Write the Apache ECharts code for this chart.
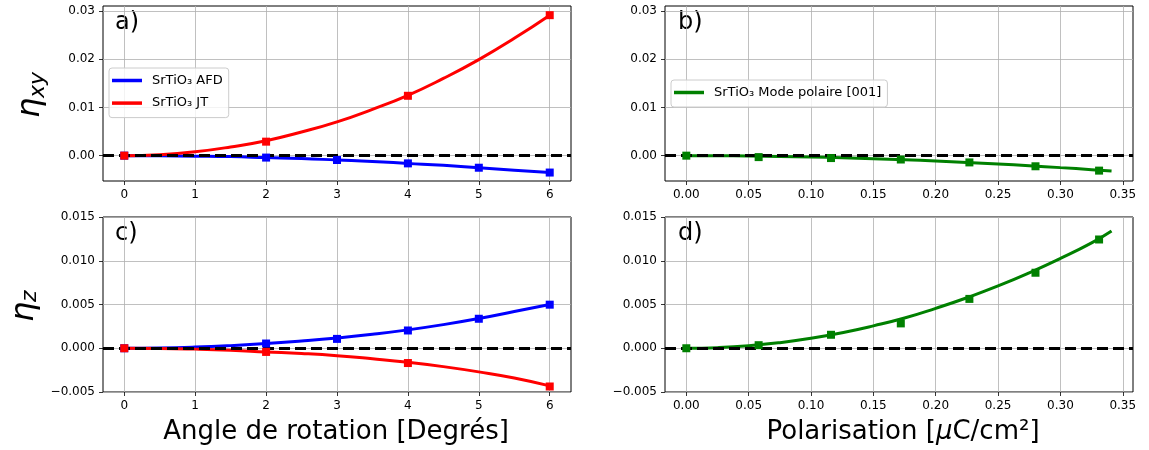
<!DOCTYPE html>
<html><head><meta charset="utf-8">
<script src="https://cdn.jsdelivr.net/npm/echarts@6/dist/echarts.min.js"></script>
<style>html,body{margin:0;padding:0;background:#fff}#c{width:1149px;height:450px}</style>
</head><body><div id="c"></div>
<script>
// ---- data ----
const angleTicks = [0, 1, 2, 3, 4, 5, 6];
const polTicks = [0, 0.05, 0.10, 0.15, 0.20, 0.25, 0.30, 0.35];
const xyTicks = [0, 0.01, 0.02, 0.03];
const zTicks = [-0.005, 0, 0.005, 0.010, 0.015];

const angleCurveX = [0, 0.5, 1, 1.5, 2, 2.5, 3, 3.5, 4, 4.5, 5, 5.5, 6];
const afdXyCurve = [0, -0.00003, -0.0001, -0.0002, -0.0004, -0.0006, -0.0009, -0.0012, -0.0016, -0.0020, -0.0025, -0.0030, -0.0035];
const jtXyCurve = [0, 0.0002, 0.0008, 0.0018, 0.0031, 0.0049, 0.0070, 0.0096, 0.0125, 0.0160, 0.0199, 0.0243, 0.0291];
const afdZCurve = [0, 0.00003, 0.00013, 0.0003, 0.00053, 0.00083, 0.00118, 0.0016, 0.0021, 0.0027, 0.0034, 0.0042, 0.0050];
const jtZCurve = [0, -0.00002, -0.0001, -0.00023, -0.00042, -0.0006, -0.00085, -0.0012, -0.0016, -0.0021, -0.0027, -0.0034, -0.0043];

const afdMarkX = [0, 2, 3, 4, 5, 6];
const afdXyMark = [0, -0.0004, -0.0009, -0.0016, -0.0025, -0.0035];
const afdZMark = [0, 0.00054, 0.00107, 0.00203, 0.00337, 0.00498];
const jtMarkX = [0, 2, 4, 6];
const jtXyMark = [0, 0.0029, 0.0124, 0.0291];
const jtZMark = [0, -0.00042, -0.00169, -0.00437];

const polCurveX = [0, 0.025, 0.05, 0.075, 0.1, 0.125, 0.15, 0.175, 0.2, 0.225, 0.25, 0.275, 0.3, 0.325, 0.341];
const polXyCurve = [0, -0.00002, -0.00007, -0.00015, -0.00028, -0.00043, -0.00062, -0.00084, -0.0011, -0.0014, -0.00172, -0.00208, -0.00248, -0.0029, -0.0032];
const polZCurve = [0, 0.00007, 0.00028, 0.00064, 0.00114, 0.00178, 0.00256, 0.00345, 0.00456, 0.00577, 0.00712, 0.00862, 0.01026, 0.01204, 0.0134];
const polMarkX = [0, 0.058, 0.116, 0.172, 0.227, 0.280, 0.331];
const polXyMark = [0, -0.0003, -0.0005, -0.0008, -0.0014, -0.0022, -0.0031];
const polZMark = [0, 0.00035, 0.00154, 0.00284, 0.00564, 0.00863, 0.01243];

const nameAFD = 'SrTiO\u2083 AFD';
const nameJT = 'SrTiO\u2083 JT';
const namePol = 'SrTiO\u2083 Mode polaire [001]';

// ---- helpers ----
const FONT = 'DejaVu Sans';
const zip = (xs, ys) => xs.map((x, i) => [x, ys[i]]);
const minus = s => s.replace('-', '\u2212');

function axisCfg(type, gridIndex, min, max, ticks, fmt, extra) {
  return Object.assign({
    type: 'value', gridIndex, min, max,
    axisLine: { show: false, onZero: false },
    axisTick: { show: true, length: 4, inside: false, customValues: ticks, lineStyle: { color: '#000', width: 0.8 } },
    axisLabel: { customValues: ticks, formatter: v => minus(fmt(v)), fontSize: 12, color: '#000', fontFamily: FONT, margin: 8 },
    splitLine: { show: true, lineStyle: { color: '#b0b0b0', width: 0.8 } }
  }, extra || {});
}

function curve(name, xi, yi, xs, ys, color) {
  return { type: 'line', name, xAxisIndex: xi, yAxisIndex: yi, data: zip(xs, ys), smooth: true,
    showSymbol: false, symbol: 'none', lineStyle: { color, width: 3 }, itemStyle: { color }, z: 2, silent: true };
}
function marks(name, xi, yi, xs, ys, color) {
  return { type: 'scatter', name, xAxisIndex: xi, yAxisIndex: yi, data: zip(xs, ys), symbol: 'rect', symbolSize: 8,
    itemStyle: { color, opacity: 1 }, z: 4, silent: true };
}
function zeroLine(xi, yi) {
  return { type: 'line', name: 'zero' + xi, xAxisIndex: xi, yAxisIndex: yi, data: [], symbol: 'none', z: 3, silent: true,
    markLine: { silent: true, symbol: ['none', 'none'], label: { show: false }, z: 3,
      lineStyle: { color: '#000', width: 3, type: [11, 5] }, data: [{ yAxis: 0 }], animation: false } };
}

const grids = [
  { left: 103, top: 6, width: 468, height: 175 },
  { left: 665, top: 6, width: 468, height: 175 },
  { left: 103, top: 217, width: 468, height: 175 },
  { left: 665, top: 217, width: 468, height: 175 }
].map(g => Object.assign(g, { show: true, borderColor: '#000', borderWidth: 1, backgroundColor: 'transparent', containLabel: false, outerBoundsMode: 'none' }));

const fAngle = v => String(Math.round(v));
const fPol = v => v.toFixed(2);
const fXy = v => v.toFixed(2);
const fZ = v => v.toFixed(3);

const legendBase = {
  orient: 'vertical', icon: 'rect', itemWidth: 30, itemHeight: 3.5, itemGap: 7.6, selectedMode: false,
  padding: [5, 6, 7, 3], backgroundColor: 'rgba(255,255,255,0.8)', borderColor: '#cccccc', borderWidth: 1, borderRadius: 3,
  textStyle: { fontSize: 13, color: '#000', fontFamily: FONT, lineHeight: 15, padding: [0, 0, 0, 5] }
};

const option = {
  animation: false,
  backgroundColor: '#fff',
  textStyle: { fontFamily: FONT },
  grid: grids,
  xAxis: [
    axisCfg('x', 0, -0.3, 6.3, angleTicks, fAngle, { splitNumber: 6 }),
    axisCfg('x', 1, -0.0171, 0.3582, polTicks, fPol, { splitNumber: 7 }),
    axisCfg('x', 2, -0.3, 6.3, angleTicks, fAngle, { splitNumber: 6 }),
    axisCfg('x', 3, -0.0171, 0.3582, polTicks, fPol, { splitNumber: 7 })
  ],
  yAxis: [
    axisCfg('y', 0, -0.00525, 0.0310, xyTicks, fXy, { splitNumber: 4 }),
    axisCfg('y', 1, -0.00525, 0.0310, xyTicks, fXy, { splitNumber: 4 }),
    axisCfg('y', 2, -0.005, 0.015, zTicks, fZ, { interval: 0.005 }),
    axisCfg('y', 3, -0.005, 0.015, zTicks, fZ, { interval: 0.005 })
  ],
  legend: [
    Object.assign({}, legendBase, { data: [nameAFD, nameJT], left: 109, top: 68 }),
    Object.assign({}, legendBase, { data: [namePol], left: 671, top: 80 })
  ],
  series: [
    curve(nameAFD, 0, 0, angleCurveX, afdXyCurve, '#0000ff'),
    curve(nameJT, 0, 0, angleCurveX, jtXyCurve, '#ff0000'),
    zeroLine(0, 0),
    marks('afd_xy_pts', 0, 0, afdMarkX, afdXyMark, '#0000ff'),
    marks('jt_xy_pts', 0, 0, jtMarkX, jtXyMark, '#ff0000'),

    curve(namePol, 1, 1, polCurveX, polXyCurve, '#008000'),
    zeroLine(1, 1),
    marks('pol_xy_pts', 1, 1, polMarkX, polXyMark, '#008000'),

    curve(nameAFD, 2, 2, angleCurveX, afdZCurve, '#0000ff'),
    curve(nameJT, 2, 2, angleCurveX, jtZCurve, '#ff0000'),
    zeroLine(2, 2),
    marks('afd_z_pts', 2, 2, afdMarkX, afdZMark, '#0000ff'),
    marks('jt_z_pts', 2, 2, jtMarkX, jtZMark, '#ff0000'),

    curve(namePol, 3, 3, polCurveX, polZCurve, '#008000'),
    zeroLine(3, 3),
    marks('pol_z_pts', 3, 3, polMarkX, polZMark, '#008000')
  ],
  graphic: [
    { type: 'text', x: 115, y: 23, style: { text: 'a)', fontSize: 24, fontFamily: FONT, fill: '#000', textAlign: 'left', textVerticalAlign: 'middle' } },
    { type: 'text', x: 678, y: 23, style: { text: 'b)', fontSize: 24, fontFamily: FONT, fill: '#000', textAlign: 'left', textVerticalAlign: 'middle' } },
    { type: 'text', x: 115, y: 234, style: { text: 'c)', fontSize: 24, fontFamily: FONT, fill: '#000', textAlign: 'left', textVerticalAlign: 'middle' } },
    { type: 'text', x: 678, y: 234, style: { text: 'd)', fontSize: 24, fontFamily: FONT, fill: '#000', textAlign: 'left', textVerticalAlign: 'middle' } },
    { type: 'text', x: 336, y: 432, style: { text: 'Angle de rotation [Degrés]', fontSize: 26, fontFamily: FONT, fill: '#000', textAlign: 'center', textVerticalAlign: 'middle' } },
    { type: 'text', x: 903, y: 432, style: { text: '{n|Polarisation [}{i|μ}{n|C/cm²]}', fontSize: 26, fontFamily: FONT, fill: '#000', textAlign: 'center', textVerticalAlign: 'middle',
        rich: { n: { fontSize: 26, fontFamily: FONT, fill: '#000' }, i: { fontSize: 26, fontFamily: FONT, fontStyle: 'italic', fill: '#000' } } } },
    { type: 'group', rotation: Math.PI / 2, children: [
      { type: 'text', x: -118, y: 31, style: { text: 'η', fontSize: 32, fontStyle: 'italic', fontFamily: FONT, fill: '#000', textAlign: 'left', textVerticalAlign: 'middle' } },
      { type: 'text', x: -98, y: 38.5, style: { text: 'xy', fontSize: 22, fontStyle: 'italic', fontFamily: FONT, fill: '#000', textAlign: 'left', textVerticalAlign: 'middle' } }
    ] },
    { type: 'group', rotation: Math.PI / 2, children: [
      { type: 'text', x: -322, y: 25, style: { text: 'η', fontSize: 32, fontStyle: 'italic', fontFamily: FONT, fill: '#000', textAlign: 'left', textVerticalAlign: 'middle' } },
      { type: 'text', x: -302, y: 30.5, style: { text: 'z', fontSize: 22, fontStyle: 'italic', fontFamily: FONT, fill: '#000', textAlign: 'left', textVerticalAlign: 'middle' } }
    ] }
  ]
};

const chart = echarts.init(document.getElementById('c'), null, { renderer: 'canvas' });
chart.setOption(option);
</script></body></html>
